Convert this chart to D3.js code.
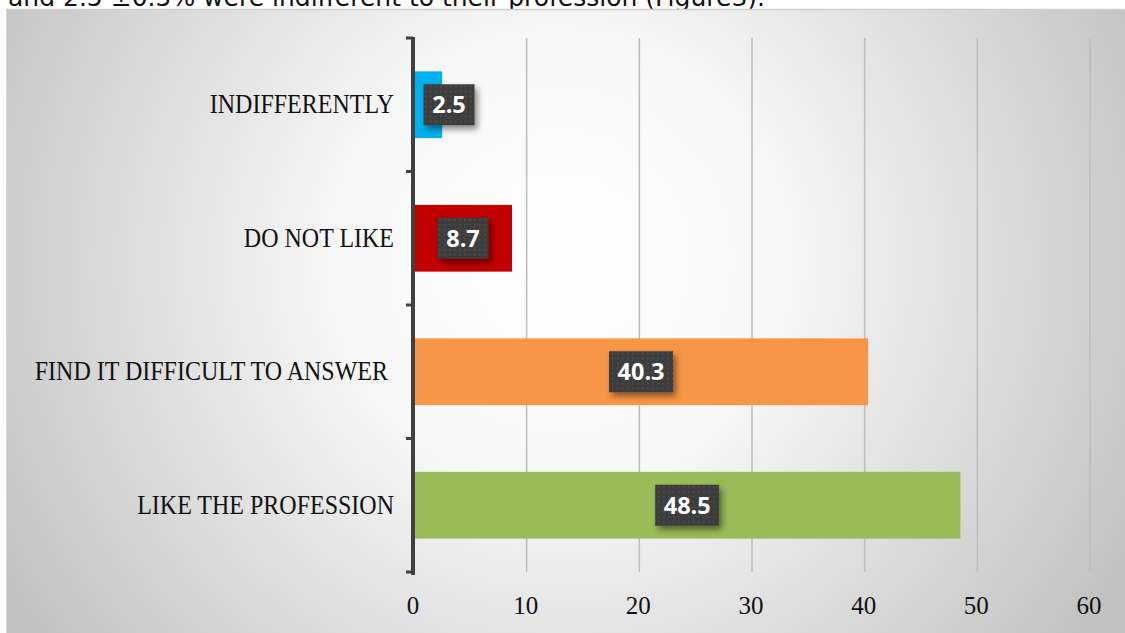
<!DOCTYPE html>
<html>
<head>
<meta charset="utf-8">
<script src="https://cdn.jsdelivr.net/npm/d3@7"></script>
<style>
  html, body { margin: 0; padding: 0; background: #ffffff; }
  svg { display: block; }
</style>
</head>
<body>
<svg id="chart" width="1125" height="633"></svg>
<script>
// Survey answers, top to bottom as drawn
const categories = ["INDIFFERENTLY", "DO NOT LIKE", "FIND IT DIFFICULT TO ANSWER", "LIKE THE PROFESSION"];
const values = [2.5, 8.7, 40.3, 48.5];
const barColors = ["#00b0f0", "#c00000", "#f79646", "#9bbb59"];
const xTicks = [0, 10, 20, 30, 40, 50, 60];
const captionText = "and 2.5 \u00b10.5% were indifferent to their profession (Figure3).";

const svg = d3.select("#chart");
const W = 1125, H = 633;

const defs = svg.append("defs");

// Soft radial background of the chart area
const bg = defs.append("radialGradient")
  .attr("id", "bgGrad")
  .attr("gradientUnits", "userSpaceOnUse")
  .attr("cx", 560).attr("cy", 260).attr("r", 640);
bg.append("stop").attr("offset", "0").attr("stop-color", "#ffffff");
bg.append("stop").attr("offset", "0.35").attr("stop-color", "#f7f7f7");
bg.append("stop").attr("offset", "1").attr("stop-color", "#c2c2c2");

// Dotted dark fill for the value callouts
const pat = defs.append("pattern")
  .attr("id", "dots")
  .attr("patternUnits", "userSpaceOnUse")
  .attr("width", 5).attr("height", 5);
pat.append("rect").attr("width", 5).attr("height", 5).attr("fill", "#3c3c3c");
pat.append("rect").attr("x", 1).attr("y", 1).attr("width", 1.4).attr("height", 1.4).attr("fill", "#555555");

const shadow = defs.append("filter").attr("id", "shadow")
  .attr("x", "-30%").attr("y", "-30%").attr("width", "170%").attr("height", "170%");
shadow.append("feDropShadow")
  .attr("dx", 3).attr("dy", 4).attr("stdDeviation", 3)
  .attr("flood-color", "#000").attr("flood-opacity", 0.45);

// Caption line above the chart, running off the top edge
svg.append("text")
  .attr("x", 8).attr("y", 6)
  .attr("font-family", "DejaVu Sans, Verdana, sans-serif")
  .attr("font-size", 25)
  .attr("fill", "#111")
  .text(captionText);

// Chart frame
svg.append("rect")
  .attr("x", 6).attr("y", 9)
  .attr("width", W - 6).attr("height", H - 9)
  .attr("fill", "url(#bgGrad)");
svg.append("line")
  .attr("x1", 6).attr("x2", W).attr("y1", 9.5).attr("y2", 9.5)
  .attr("stroke", "#cfcfcf").attr("stroke-width", 1.5);
svg.append("line")
  .attr("x1", 6.5).attr("x2", 6.5).attr("y1", 9).attr("y2", H)
  .attr("stroke", "#d6d6d6").attr("stroke-width", 1);

const plot = { left: 414, right: 1090, top: 38, bottom: 572 };

const x = d3.scaleLinear().domain([0, 60]).range([plot.left, plot.right]);
const y = d3.scaleBand().domain(categories).range([plot.top, plot.bottom]).paddingInner(0.5).paddingOuter(0.25);

// Vertical gridlines
svg.append("g")
  .selectAll("line")
  .data(xTicks.filter(d => d > 0))
  .join("line")
  .attr("x1", d => x(d)).attr("x2", d => x(d))
  .attr("y1", plot.top).attr("y2", plot.bottom)
  .attr("stroke", "#bdbdbd").attr("stroke-width", 1.5);

// Bars
svg.append("g")
  .selectAll("rect")
  .data(values)
  .join("rect")
  .attr("x", x(0))
  .attr("y", (d, i) => y(categories[i]))
  .attr("width", d => x(d) - x(0))
  .attr("height", y.bandwidth())
  .attr("fill", (d, i) => barColors[i]);

// Category axis with its tick marks between bands
const step = y.step();
const boundaries = d3.range(categories.length + 1).map(i => plot.top + i * step);
const axisG = svg.append("g");
axisG.append("line")
  .attr("x1", plot.left - 1).attr("x2", plot.left - 1)
  .attr("y1", plot.top - 1).attr("y2", plot.bottom + 3)
  .attr("stroke", "#404040").attr("stroke-width", 4);
axisG.selectAll("line.tick")
  .data(boundaries)
  .join("line")
  .attr("class", "tick")
  .attr("x1", plot.left - 8).attr("x2", plot.left - 1)
  .attr("y1", d => d).attr("y2", d => d)
  .attr("stroke", "#404040").attr("stroke-width", 3);

// Category labels
svg.append("g")
  .selectAll("text")
  .data(categories)
  .join("text")
  .attr("transform", (d, i) => {
    const tx = i === 2 ? 388 : 394;
    const ty = y(d) + y.bandwidth() / 2;
    return `translate(${tx},${ty}) scale(1,1.1)`;
  })
  .attr("dy", "0.33em")
  .attr("text-anchor", "end")
  .attr("font-family", "Liberation Serif, Times New Roman, serif")
  .attr("font-size", 24)
  .attr("fill", "#111")
  .text(d => d);

// Value axis labels
svg.append("g")
  .selectAll("text")
  .data(xTicks)
  .join("text")
  .attr("x", d => x(d) - 1)
  .attr("y", 614)
  .attr("text-anchor", "middle")
  .attr("font-family", "Liberation Serif, Times New Roman, serif")
  .attr("font-size", 25)
  .attr("fill", "#111")
  .text(d => d);

// Value callouts
const labels = svg.append("g")
  .selectAll("g")
  .data(values)
  .join("g")
  .attr("transform", (d, i) => {
    const cx = Math.max((x(0) + x(d)) / 2, x(0) + 35);
    const cy = y(categories[i]) + y.bandwidth() / 2;
    return `translate(${cx},${cy})`;
  });
labels.each(function(d) {
  const g = d3.select(this);
  const str = String(d);
  const w = str.length > 3 ? 64 : 51;
  g.append("rect")
    .attr("x", -w / 2).attr("y", -20.5)
    .attr("width", w).attr("height", 41)
    .attr("fill", "url(#dots)")
    .attr("filter", "url(#shadow)");
  g.append("text")
    .attr("text-anchor", "middle")
    .attr("dy", "0.36em")
    .attr("font-family", "Open Sans, sans-serif")
    .attr("font-weight", "bold")
    .attr("font-size", 23.5)
    .attr("fill", "#ffffff")
    .text(str);
});
</script>
</body>
</html>
